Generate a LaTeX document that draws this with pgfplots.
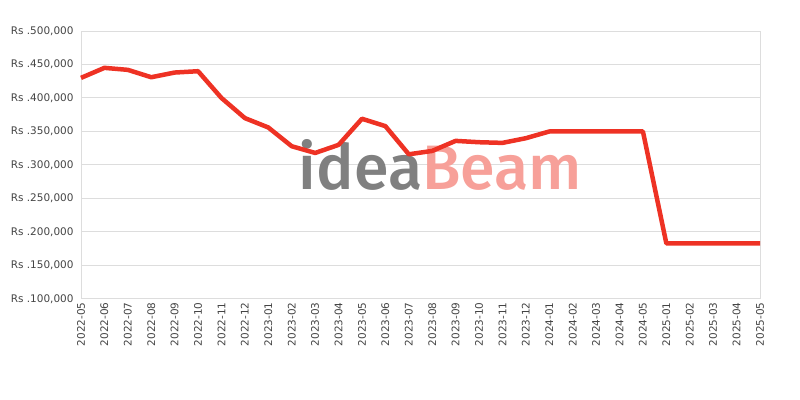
\documentclass[border=0pt]{standalone}
\usepackage{fontspec}
\setmainfont{DejaVu Sans}
\newfontfamily\logofont{Fira Sans}[UprightFont={* Medium}]
\usepackage{pgfplots}
\pgfplotsset{compat=1.18}

\definecolor{lineRed}{RGB}{238,50,36}
\definecolor{gridGray}{RGB}{221,221,221}
\definecolor{labelGray}{RGB}{68,68,68}
\definecolor{logoGray}{RGB}{128,128,128}
\definecolor{logoPink}{RGB}{247,160,153}

\begin{document}
\begin{tikzpicture}
\path[use as bounding box] (0,0) rectangle (800bp,400bp);
\begin{axis}[
    at={(81bp,101bp)}, anchor=south west,
    scale only axis,
    width=679bp, height=268bp,
    xmin=0, xmax=29,
    ymin=100000, ymax=500000,
    scaled y ticks=false,
    axis line style={gridGray, line width=1bp},
    ytick={100000,150000,...,500000},
    yticklabels={{Rs .100,000},{Rs .150,000},{Rs .200,000},{Rs .250,000},{Rs .300,000},{Rs .350,000},{Rs .400,000},{Rs .450,000},{Rs .500,000}},
    xtick={0,...,29},
    xticklabels={2022-05,2022-06,2022-07,2022-08,2022-09,2022-10,2022-11,2022-12,
      2023-01,2023-02,2023-03,2023-04,2023-05,2023-06,2023-07,2023-08,2023-09,2023-10,2023-11,2023-12,
      2024-01,2024-02,2024-03,2024-04,2024-05,
      2025-01,2025-02,2025-03,2025-04,2025-05},
    x tick label style={rotate=90, anchor=east, font=\fontsize{10.5}{12}\selectfont, text=labelGray},
    y tick label style={font=\fontsize{10.5}{12}\selectfont, text=labelGray, xshift=-4bp},
    tick style={draw=none},
    ymajorgrids,
    grid style={gridGray, line width=1bp},
    clip=false,
]
% watermark
\node[anchor=base west, inner sep=0pt, font=\logofont\fontsize{63}{63}\selectfont]
  at (axis cs:9.3,263000) {\textcolor{logoGray}{idea}\textcolor{logoPink}{Beam}};

\addplot[color=lineRed, line width=4.5bp, line join=round] coordinates {
 (0,430000) (1,445000) (2,442000) (3,431000) (4,438000) (5,440000)
 (6,400000) (7,370000) (8,356000) (9,328000) (10,318000) (11,330000)
 (12,369000) (13,358000) (14,316000) (15,321000) (16,336000) (17,334000)
 (18,333000) (19,340000) (20,350000) (21,350000) (22,350000) (23,350000)
 (24,350000) (25,183000) (26,183000) (27,183000) (28,183000) (29,183000)
};
\end{axis}
\end{tikzpicture}
\end{document}
